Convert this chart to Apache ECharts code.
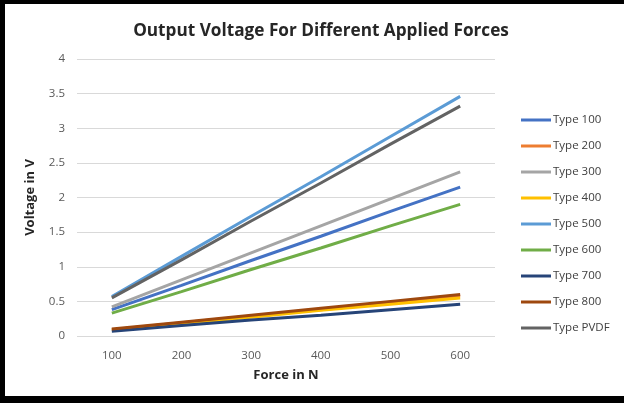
<!DOCTYPE html>
<html><head><meta charset="utf-8">
<script src="https://cdn.jsdelivr.net/npm/echarts@6/dist/echarts.min.js"></script>
<style>html,body{margin:0;padding:0;background:#fff}#c{width:624px;height:403px}</style>
</head><body><div id="c"></div>
<script>
const forces = ['100','200','300','400','500','600'];
const seriesNames = ['Type 100','Type 200','Type 300','Type 400','Type 500','Type 600','Type 700','Type 800','Type PVDF'];
const type100 = [0.38,0.73,1.09,1.44,1.80,2.15];
const type200 = [0.09,0.19,0.29,0.38,0.48,0.58];
const type300 = [0.42,0.81,1.20,1.59,1.98,2.37];
const type400 = [0.09,0.18,0.27,0.37,0.46,0.55];
const type500 = [0.57,1.15,1.73,2.30,2.88,3.46];
const type600 = [0.33,0.64,0.96,1.27,1.59,1.90];
const type700 = [0.07,0.15,0.23,0.30,0.38,0.46];
const type800 = [0.10,0.20,0.30,0.40,0.50,0.60];
const typePVDF = [0.55,1.10,1.66,2.21,2.77,3.32];
const allData = [type100,type200,type300,type400,type500,type600,type700,type800,typePVDF];
const colors = ['#4472C4','#ED7D31','#A5A5A5','#FFC000','#5B9BD5','#70AD47','#264478','#9E480E','#636363'];

const chart = echarts.init(document.getElementById('c'));
chart.setOption({
  animation:false,
  color:colors,
  title:{text:'Output Voltage For Different Applied Forces',left:316,top:18,textAlign:'center',
    textStyle:{fontFamily:'Open Sans',fontWeight:'bold',fontSize:17.2,color:'#262626'}},
  grid:{left:77,right:129,top:59,bottom:67},
  legend:{orient:'vertical',left:521,top:114,padding:0,itemGap:14,itemWidth:30,itemHeight:12,
    icon:'path://M0,4.5L30,4.5L30,7.5L0,7.5Z',
    textStyle:{fontFamily:'Open Sans',fontSize:11.5,color:'#404040',padding:[0,0,0,-3]},
    data:seriesNames},
  xAxis:{type:'category',data:forces,name:'Force in N',nameLocation:'middle',nameGap:33,
    nameTextStyle:{fontFamily:'Open Sans',fontWeight:'bold',fontSize:13,color:'#262626'},
    axisLine:{show:false},axisTick:{show:false},
    axisLabel:{fontFamily:'Open Sans',fontSize:11.5,color:'#595959',margin:14}},
  yAxis:{type:'value',min:0,max:4,interval:0.5,name:'Voltage in V',nameLocation:'middle',nameGap:40,
    nameTextStyle:{fontFamily:'Open Sans',fontWeight:'bold',fontSize:13,color:'#262626'},
    axisLine:{show:false},axisTick:{show:false},
    axisLabel:{fontFamily:'Open Sans',fontSize:11.5,color:'#595959',margin:12},
    splitLine:{lineStyle:{color:'#D9D9D9',width:1}}},
  graphic:{elements:[
    {type:'rect',z:100,left:0,top:0,shape:{width:624,height:4},style:{fill:'#000000'}},
    {type:'rect',z:100,left:0,top:0,shape:{width:5,height:403},style:{fill:'#000000'}},
    {type:'rect',z:100,left:0,top:396,shape:{width:624,height:7},style:{fill:'#000000'}}
  ]},
  series:seriesNames.map((n,i)=>({name:n,type:'line',data:allData[i],symbol:'none',
    lineStyle:{width:3,color:colors[i]},itemStyle:{color:colors[i]}}))
});
</script></body></html>
